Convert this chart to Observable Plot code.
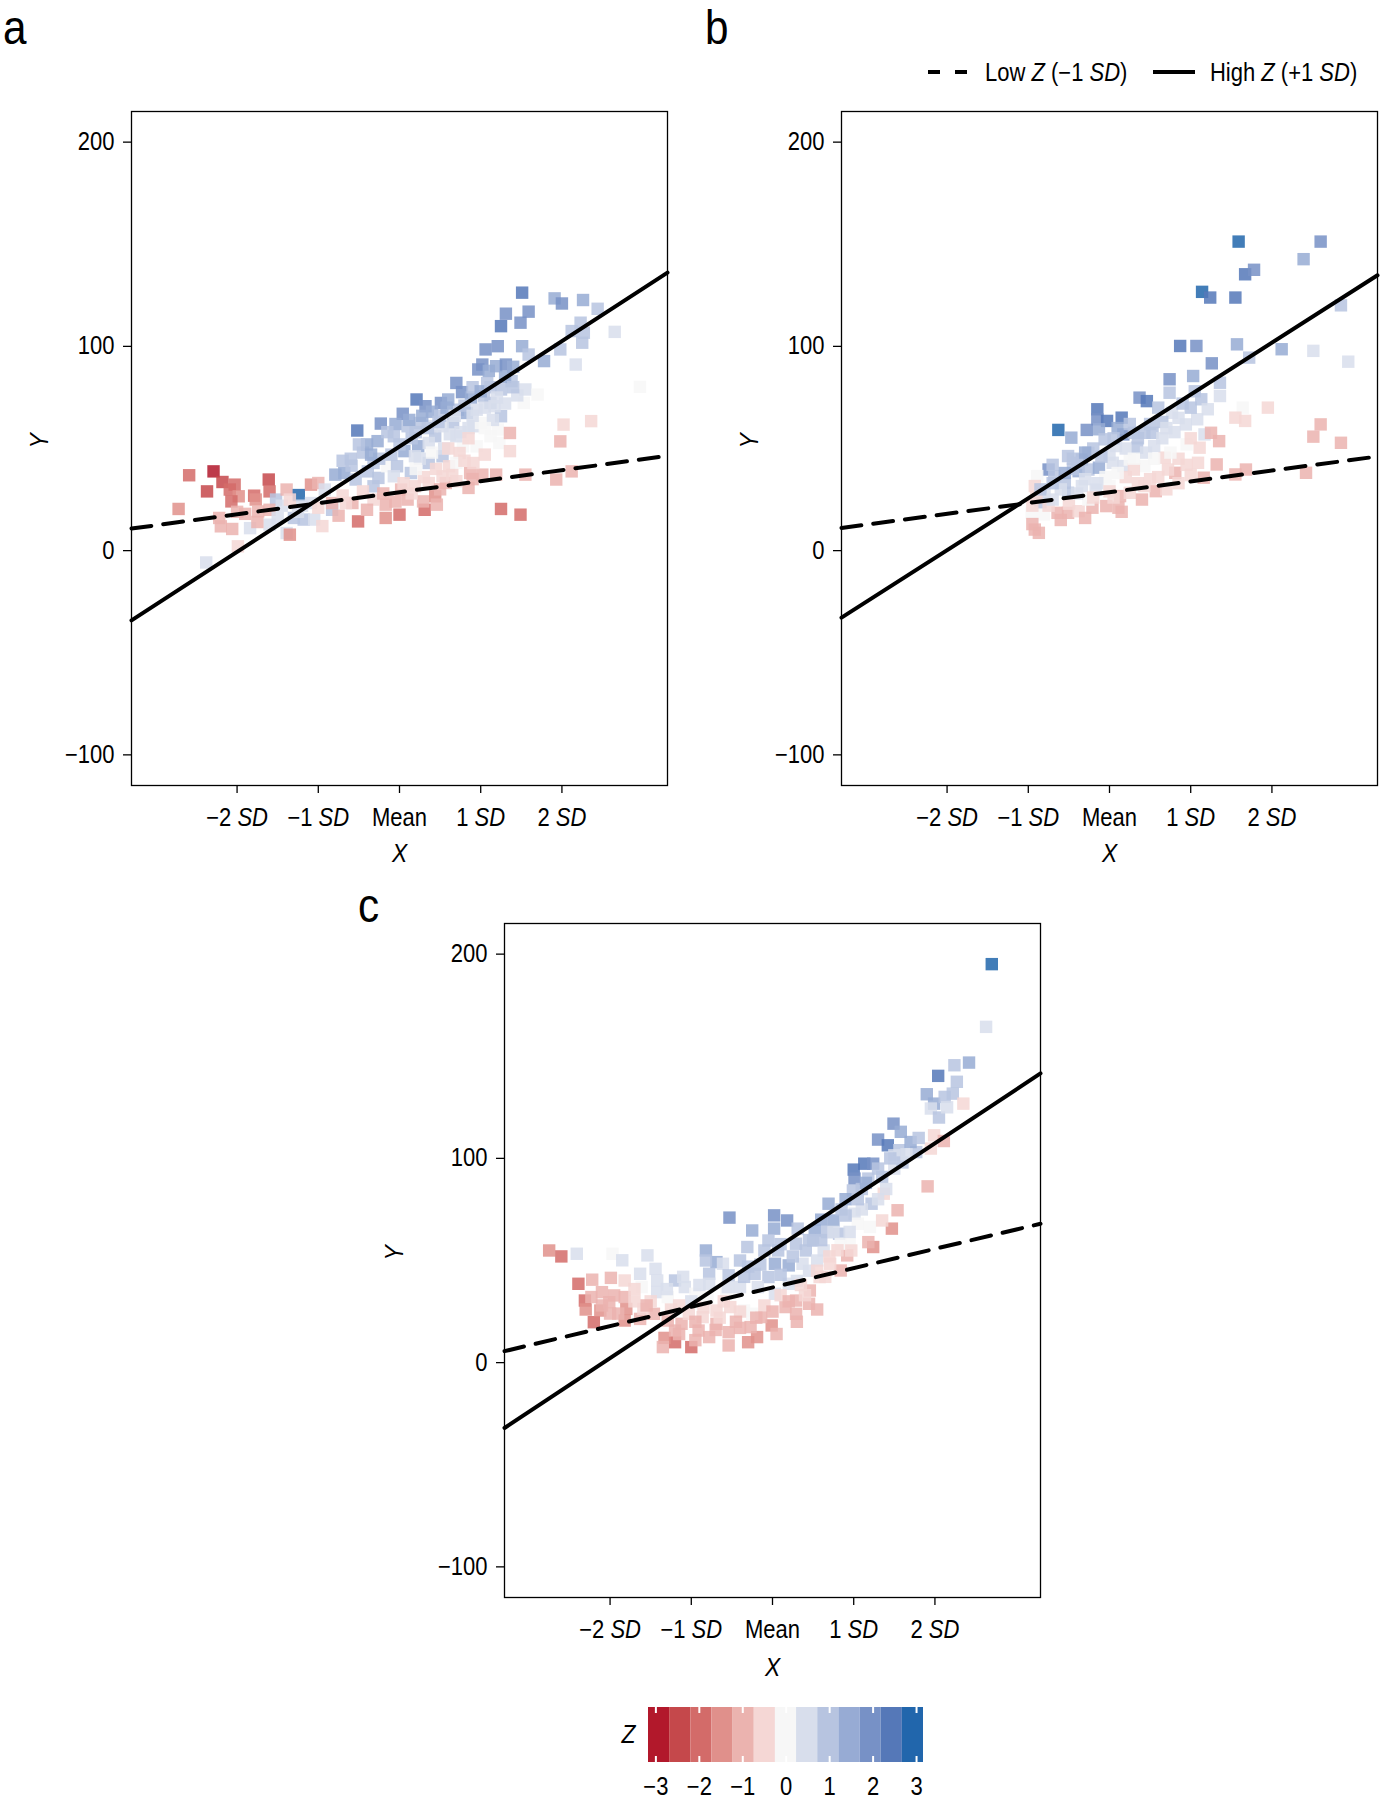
<!DOCTYPE html>
<html><head><meta charset="utf-8">
<script src="https://cdn.jsdelivr.net/npm/d3@7"></script>
<script src="https://cdn.jsdelivr.net/npm/@observablehq/plot@0.6"></script>
<style>
body{margin:0;background:#fff;}
#page{position:relative;width:1382px;height:1800px;overflow:hidden;background:#fff;
 font-family:"Liberation Sans",Arial,sans-serif;}
.panel{position:absolute;}
#overlay{position:absolute;left:0;top:0;}
</style></head><body><div id="page"></div>
<script>
const FONT = '"Liberation Sans",Arial,sans-serif';
const SQUEEZE = 0.88;

// ---------- axes / scales ----------
const xTickValues = [-2, -1, 0, 1, 2];
const xTickLabels = ["−2 SD", "−1 SD", "Mean", "1 SD", "2 SD"];
const yTickValues = [-100, 0, 100, 200];
const xDomain = [-3.3, 3.3];
const yDomain = [-115, 215];
const zMin = -3.17, zMax = 3.16;
const zColors = ["#B2182B","#C5484B","#D36B69","#E0908B","#EBB3AF","#F5D7D5","#F7F7F7",
                 "#D8DEEC","#B7C4E0","#97ABD4","#7791C6","#5578B8","#2166AC"];
const zLegendTicks = [-3, -2, -1, 0, 1, 2, 3];
const panelLetters = ["a", "b", "c"];
const legendLabels = ["Low Z (−1 SD)", "High Z (+1 SD)"];

// ---------- panel a ----------
const aX = [-2.59,-2.29,-2.18,-2.03,-2.37,-2.72,-2.09,-1.98,-2.07,-1.79,-1.77,-1.61,-1.60,-1.74,-2.20,-2.06,-2.22,-1.99,-2.38,-1.84,
 -1.60,-1.52,-1.39,-1.24,-1.09,-1.00,-1.30,-1.39,-1.35,-1.18,-1.05,-0.83,-0.79,-0.68,-0.59,-0.83,-0.75,-0.58,-0.51,-0.54,
 -0.52,-0.39,-0.32,-0.27,-0.23,-0.26,-0.15,-0.17,-0.17,0.00,-0.07,0.04,0.10,-0.03,0.06,0.14,0.10,0.21,0.32,0.25,
 0.23,0.36,0.31,0.29,0.44,0.46,0.51,0.44,0.53,0.57,0.61,0.70,0.77,0.72,0.66,0.78,0.74,0.83,0.87,0.85,
 0.95,0.97,1.02,1.04,0.95,1.02,1.06,1.21,1.19,1.31,1.25,1.25,1.21,1.23,1.19,1.25,1.36,1.36,1.38,1.25,
 1.31,1.49,1.51,1.59,1.51,1.59,1.55,1.53,1.55,1.49,1.70,1.78,1.91,2.00,1.98,1.98,2.02,1.93,2.12,2.12,
 2.17,2.23,2.25,2.27,2.26,2.44,2.36,2.65,2.96,0.40,0.53,0.91,1.00,1.12,1.17,0.70,0.36,0.19,-0.07,-0.32,
 0.70,0.53,0.36,0.19,0.02,-0.32,-0.66,-0.92,-1.09,0.91,1.12,
 -0.60,-0.45,-0.40,-0.10,-0.05,0.15,0.28,0.40,0.48,0.60,0.62,0.85,0.88,0.90,1.08,1.10,1.15,1.30,1.40,1.45,
 0.30,0.45,0.65,0.80,1.05,0.05,-0.20,-0.45,-1.60,-1.90,-1.45,-1.20,0.55,0.25,-0.25,
 -0.70,-0.50,-0.35,-0.15,0.00,0.12,0.20,0.35,0.50,0.58,0.68,0.80,0.90,1.00,1.12,1.20,1.30,1.40,1.05,0.75,
 0.20,0.40,0.60,0.85,1.05,0.50,0.70,0.90,0.15,-0.05,-0.40,-0.70,-1.00,-1.25,-1.50,-1.75,-2.00,-1.35,-0.95];
const aY = [36.9,38.8,33.6,32.3,29.0,20.4,29.9,26.6,24.1,26.9,25.0,34.8,29.0,19.2,11.9,10.6,16.0,2.1,-5.8,11.0,
 12.7,25.0,29.9,27.2,32.3,33.1,16.0,8.6,7.8,15.2,15.2,20.0,37.2,38.0,41.6,23.3,17.1,23.3,14.3,34.8,
 58.8,38.8,31.5,53.6,62.2,35.6,41.3,22.5,16.0,17.6,56.0,67.0,60.9,41.3,48.7,38.0,25.0,74.0,70.7,62.5,
 51.1,42.9,20.0,24.1,26.6,22.5,72.3,56.0,46.2,33.1,41.3,82.1,77.6,69.0,62.5,51.1,47.8,67.4,38.0,30.7,
 51.1,88.7,91.1,75.6,69.0,37.2,98.5,100.1,90.3,91.1,78.9,65.8,59.3,52.7,37.2,20.4,57.6,48.7,83.0,109.9,
 116.0,111.6,126.3,117.0,100.1,96.0,78.9,72.3,37.2,17.6,76.4,92.8,123.5,121.0,98.5,53.5,61.7,34.8,107.5,38.8,
 91.1,111.6,101.8,106.7,122.7,118.4,63.4,107.1,80.2,60.9,60.9,60.9,62.5,72.3,70.7,56.0,52.7,46.2,36.4,42.9,
 42.9,36.4,33.1,31.5,29.9,25.0,23.3,29.9,23.3,42.9,56.0,
 45,48,52,47,62,55,66,68,63,74,57,60,75,80,82,88,64,72,90,76,
 36,40,37,44,47,33,28,29,20,18,22,22,50,45,45,
 44,52,47,58,52,64,58,60,66,70,66,71,66,78,80,75,85,80,70,58,
 40,48,50,55,60,30,34,35,28,24,20,27,21,19,16,14,19,25,12];
const aZ = [-2.0,-2.8,-2.5,-2.0,-2.3,-1.5,-2.0,-1.6,-1.8,-1.9,-1.7,-2.3,-1.8,-1.0,-1.0,-1.1,-0.9,-0.6,0.4,0.6,
 0.6,0.8,-1.0,2.9,-1.5,-1.0,1.0,0.6,-1.5,1.0,0.5,1.0,1.5,1.4,1.0,-1.0,-1.0,-1.0,-1.9,1.0,
 2.3,1.0,1.0,1.5,2.0,1.0,0.1,-1.0,-1.6,-1.9,1.0,2.0,1.0,1.0,1.5,0.9,-1.0,2.3,2.0,1.0,
 1.5,1.0,-1.9,-1.0,-1.5,-1.0,2.0,1.0,0.9,-0.9,-0.4,1.9,1.9,1.0,0.9,0.1,-0.5,1.5,-1.0,-0.9,
 0.0,2.0,1.9,1.0,0.6,-1.0,2.0,1.9,1.5,1.9,1.0,1.0,0.2,0.1,-1.0,-1.9,-0.9,-0.6,1.0,2.4,
 2.1,2.0,2.3,2.0,1.5,1.0,0.5,0.1,-1.0,-1.9,0.1,1.5,1.5,1.7,0.9,-1.0,-0.7,-0.9,1.0,-1.2,
 0.6,1.0,1.0,1.0,1.3,1.2,-0.6,0.4,0.1,0.5,0.6,0.5,0.2,0.8,0.6,0.5,0.6,0.4,0.3,0.8,
 -0.2,-0.5,-0.6,-0.6,-0.9,-0.6,-0.6,0.4,0.3,-0.6,0.0,
 1.0,0.9,1.4,0.9,1.4,0.9,1.4,1.4,0.9,1.4,0.5,0.5,1.4,1.0,1.0,1.4,0.5,0.5,1.4,0.5,
 -0.5,-0.3,-0.6,-0.3,-0.5,-0.5,-0.8,-0.5,-0.8,-1.0,0.5,0.6,0.3,0.3,1.0,
 0.9,1.0,1.4,1.0,0.9,1.4,1.0,1.0,1.0,1.4,0.5,1.0,0.5,1.4,1.0,0.5,1.4,0.9,0.5,0.3,
 0.1,0.1,-0.3,-0.3,0.1,-0.8,-0.6,-0.8,-0.7,-0.9,-0.8,-0.5,-0.3,0.5,0.3,-0.8,-1.0,-0.6,-0.5];
const aIntercepts = [28.6, 51.0];
const aSlopes = [5.4, 25.8];

// ---------- panel b ----------
const bX = [1.59,2.60,2.39,1.67,1.78,1.14,1.24,1.55,2.85,0.87,1.07,1.57,1.72,2.12,2.51,2.94,1.26,1.03,0.74,0.74,
 1.36,1.36,1.13,1.21,0.37,0.46,0.60,0.77,0.94,1.08,1.17,1.64,1.55,1.67,1.95,2.60,2.51,2.85,1.25,1.35,
 1.32,1.68,1.55,2.42,1.16,1.09,1.11,0.81,0.72,0.57,0.68,-0.15,-0.15,-0.03,0.15,-0.13,-0.63,-0.47,-0.28,-0.06,
 0.17,0.30,0.43,0.53,0.55,0.34,0.08,-0.26,-0.51,-0.34,-0.75,-0.68,-0.55,-0.38,-0.26,-0.13,0.04,0.17,0.25,0.43,
 -0.51,-0.34,-0.17,-0.89,-0.92,-0.85,-0.96,-0.81,-0.92,-0.87,-0.64,-0.51,-0.38,-0.21,-0.04,0.11,0.13,0.25,0.43,0.30,
 -0.26,0.00,
 -0.70,-0.45,-0.20,0.00,0.10,0.25,0.45,0.65,0.80,0.95,1.00,0.65,-0.60,-0.80,-0.30,-0.05,0.60,0.85,0.35,0.05,
 -0.50,-0.75,0.20,0.95,-0.90,-0.40,
 -0.85,-0.70,-0.55,-0.45,-0.30,-0.10,0.05,0.20,0.35,0.50,0.70,0.85,0.90,1.05,0.55,0.75,1.00,0.30,0.10,-0.15,
 -0.40,-0.70,-0.95,-0.20,0.00,0.40,0.70,0.85,1.00,-0.60,-0.30,0.15,-0.95,0.50];
const bY = [151.3,151.3,142.7,135.3,137.5,126.7,123.9,123.9,120.1,100.2,100.2,101.0,94.5,98.6,97.8,92.5,91.7,85.5,83.9,77.3,
 82.2,75.7,74.1,69.2,74.9,73.2,70.0,67.5,61.8,64.3,56.9,70.0,65.1,63.5,70.0,61.8,55.8,52.8,57.7,53.6,
 42.2,39.7,37.3,38.1,35.7,43.0,50.4,38.1,39.7,29.1,45.5,69.2,64.3,63.5,65.1,59.4,59.1,55.3,59.1,54.5,
 56.9,57.7,57.7,57.7,51.2,50.4,51.2,47.9,46.3,44.6,39.7,36.5,33.2,38.9,39.7,40.6,43.0,41.4,44.6,41.4,
 28.3,31.6,29.9,36.5,31.6,23.4,18.5,17.7,10.3,8.7,18.5,18.5,19.3,21.0,21.8,21.0,26.7,28.3,31.6,39.7,
 25.0,31.6,
 42,40,50,47,60,62,48,55,58,52,70,63,30,28,35,36,36,45,33,26,
 23,22,36,42,26,43,
 30,33,38,45,48,46,55,50,55,62,60,65,72,78,45,48,55,45,38,33,
 28,25,22,26,29,25,30,33,37,15,16,19,13,35];
const bZ = [2.9,2.0,1.5,2.3,2.1,2.9,2.3,2.2,1.0,2.3,2.0,1.5,1.0,1.3,0.5,0.3,1.8,1.5,2.0,1.0,
 1.0,0.6,1.0,0.6,1.9,2.3,1.0,0.5,0.4,0.4,0.5,0.1,-0.3,-0.5,-0.7,-1.0,-1.0,-1.2,-1.0,-1.0,
 -0.9,-0.9,-1.0,-0.9,-1.0,-0.6,-0.3,-0.9,-0.4,-1.0,-0.6,2.6,2.0,2.3,2.2,1.5,2.9,1.5,1.7,1.0,
 1.7,1.0,1.0,1.0,0.5,0.8,0.6,1.0,1.0,1.3,1.7,1.0,1.0,1.3,1.0,1.3,0.5,0.3,0.1,0.0,
 0.9,0.6,0.4,0.0,-0.6,0.9,0.1,0.0,-1.0,-1.0,-0.9,-0.8,-0.7,-1.0,-0.9,-1.0,-0.9,-0.7,-0.6,-0.5,
 0.1,-0.1,
 1.0,1.0,1.0,0.5,1.4,1.0,0.5,0.5,0.3,0.0,0.9,0.9,0.5,0.3,0.3,0.1,-0.5,-0.4,-0.6,-0.7,
 -0.7,-0.5,-0.3,-0.6,-0.5,0.9,
 0.9,1.0,1.4,1.0,1.4,1.0,1.0,0.5,0.9,1.0,0.5,0.5,1.0,1.0,0.1,0.0,-0.3,0.0,0.1,0.3,
 0.5,0.3,-0.3,-0.6,-0.5,-0.9,-0.7,-0.6,-0.5,-0.8,-0.8,-0.8,-0.8,-0.4];
const bIntercepts = [28.6, 51.0];
const bSlopes = [5.3, 25.4];

// ---------- panel c ----------
const cX = [2.70,2.63,2.42,2.24,2.27,2.04,1.90,1.99,2.12,2.22,1.95,2.35,1.49,1.58,1.30,1.42,1.56,1.77,1.50,1.99,
 2.11,1.95,1.91,1.00,1.13,1.24,1.01,1.18,1.35,1.50,1.37,1.54,1.47,1.24,1.18,0.99,1.22,1.01,1.05,1.20,
 1.35,0.95,0.92,0.84,0.69,0.75,0.82,0.67,0.52,0.50,0.63,0.71,0.58,0.46,0.45,0.29,0.29,0.16,-0.01,-0.19,
 -0.27,-0.14,-0.35,-0.25,-0.54,-0.54,-0.78,-0.69,-0.91,-1.00,-1.20,-1.33,-1.35,-1.20,-1.12,-1.03,-0.86,-0.69,-0.52,-1.29,
 -1.46,-1.63,-1.59,-1.82,-1.80,-1.82,-2.20,-2.12,-2.31,-2.23,-2.01,-1.95,-2.10,-2.39,-2.22,-1.99,-1.82,-2.75,-2.60,-2.41,
 -1.97,-1.85,-1.54,-1.63,-1.44,-1.42,-1.42,-1.61,-1.20,-1.08,-1.29,-0.95,-0.82,-0.69,-0.82,-0.78,-0.61,-0.54,-0.78,-0.53,
 -0.25,0.02,0.02,0.18,0.31,-0.05,-0.31,-0.40,-0.10,0.03,0.20,0.07,0.29,0.41,0.37,-0.22,-0.05,-0.18,0.03,-0.40,
 -0.57,0.20,0.84,0.97,
 -1.00,-0.90,-1.15,-0.60,-0.40,-0.10,0.10,0.30,0.45,0.55,0.10,-0.30,0.60,0.85,0.90,1.10,1.30,1.10,0.80,0.65,
 0.40,-1.70,-2.00,-2.30,-1.50,-0.85,-0.65,-0.40,-0.95,1.40,1.60,1.70,
 -2.10,-1.90,-1.70,-1.30,-1.10,-1.25,-1.55,-0.80,-0.55,-0.35,-0.15,0.10,0.25,0.45,0.60,0.75,0.90,1.05,1.15,1.30,
 1.45,1.65,1.80,2.05,2.15,0.95,0.70,0.55,0.35,0.20,0.00,-0.20,-0.45,-0.70,-0.95,-1.15,-0.30,0.05,0.30,0.55];
const cY = [195.1,164.4,146.9,145.6,137.5,140.4,131.4,126.8,130.1,131.7,124.4,126.8,117.0,113.0,109.2,106.4,104.0,103.1,101.5,111.3,
 108.5,104.8,86.3,94.5,97.4,97.4,90.1,90.1,90.9,95.0,82.7,74.6,65.6,56.6,59.0,84.3,77.8,72.9,68.0,66.4,
 69.6,58.2,52.5,45.1,77.8,69.6,63.1,63.9,64.7,59.8,54.9,48.4,41.9,35.3,28.8,30.4,23.9,27.2,18.2,12.5,
 17.4,22.3,25.5,23.9,8.4,14.9,12.5,19.0,15.7,7.6,10.0,12.1,7.6,15.7,19.0,23.9,22.3,25.5,27.2,20.6,
 23.9,21.4,26.3,20.6,26.3,32.1,19.8,25.5,30.4,32.1,29.6,32.9,34.5,38.6,40.6,41.5,40.2,54.9,52.0,53.3,
 53.3,50.1,52.5,43.5,45.9,40.2,34.5,37.0,40.2,37.0,32.1,33.7,54.9,49.2,50.0,43.5,48.4,42.7,38.6,71.0,
 64.7,72.1,65.6,69.6,65.6,59.8,56.6,50.0,54.9,48.4,47.6,54.9,58.2,54.9,48.4,43.5,41.9,37.0,33.7,37.0,
 33.7,38.6,58.2,54.9,
 30,38,28,30,25,28,33,40,45,50,43,47,70,75,80,85,80,75,55,42,
 33,30,24,26,30,27,22,17,20,85,98,108,
 28,24,36,36,42,26,28,32,37,42,48,58,52,60,60,64,72,80,88,95,
 100,102,110,120,125,64,52,45,38,30,25,22,20,16,11,14,10,14,20,26];
const cZ = [2.9,0.5,1.3,1.0,0.8,2.3,1.5,1.6,1.0,1.0,0.5,-0.5,2.0,1.6,1.9,2.3,1.0,0.8,0.5,-0.5,
 -1.0,-0.5,-0.8,2.3,2.3,2.0,2.0,1.0,1.0,0.5,-0.4,-0.9,-1.5,-1.5,-0.9,1.0,1.0,0.6,0.1,0.1,
 -0.4,0.2,-0.9,-0.8,1.5,1.5,1.0,1.0,1.4,1.0,0.5,-0.5,-0.5,-0.9,-1.0,-1.0,-1.0,-0.9,-1.6,-1.5,
 -1.0,-0.9,0.0,0.1,-1.2,-0.9,-1.0,-0.8,-0.9,-1.8,-1.8,-1.6,-1.0,-1.0,-0.9,-0.6,-0.6,-0.5,-0.3,-0.9,
 -0.8,-1.2,-0.5,-1.5,-1.4,-1.0,-2.0,-1.5,-2.0,-1.0,-0.9,-0.9,-1.0,-1.8,-1.0,-1.0,-0.5,-1.3,-1.8,0.3,
 0.1,0.5,0.5,0.6,0.6,0.5,0.4,0.1,1.0,0.5,0.2,0.1,1.4,1.4,1.0,1.0,0.6,1.0,0.4,1.7,
 1.5,2.0,1.5,1.9,1.0,1.0,1.0,1.0,1.0,1.4,1.4,1.0,1.0,1.0,0.6,0.9,1.0,0.6,0.6,0.4,
 0.1,0.3,0.0,-0.5,
 0.3,0.4,-0.5,-0.4,-0.6,-0.5,-0.3,0.3,0.5,0.6,0.9,1.0,1.4,1.0,1.4,0.9,0.5,0.5,-0.3,-0.7,
 -0.7,-0.7,-1.0,-1.5,-0.3,-0.5,-0.7,-0.9,-1.0,0.5,1.0,1.4,
 -1.2,-1.0,-0.5,0.3,0.6,-0.7,-0.8,0.0,0.5,0.9,1.0,1.0,0.9,1.0,0.9,0.5,0.9,1.0,1.4,1.0,
 1.0,0.5,1.0,0.9,0.5,0.3,-0.3,-0.5,-0.6,-0.8,-0.8,-0.9,-0.8,-1.0,-1.0,-1.2,-1.3,-1.2,-0.9,-0.8];
const cIntercepts = [36.8, 54.8];
const cSlopes = [9.45, 26.3];

// ---------- layout ----------
const ML = 100, MR = 5, MT = 10, MB = 90, FW = 536, FH = 674;
const page = document.getElementById("page");
const zThresholds = d3.range(1, zColors.length).map(i => zMin + i * (zMax - zMin) / zColors.length);
const colorScale = {type: "threshold", domain: zThresholds, range: zColors};
const fmtMinus = d => d < 0 ? "−" + Math.abs(d) : String(d);
const NS = "http://www.w3.org/2000/svg";

function italicizeSD(svg) {
  svg.querySelectorAll('g[aria-label="x-axis tick label"] text').forEach(t => {
    const s = t.textContent;
    const m = s.match(/^(.*?)\s?SD$/);
    if (!m) return;
    t.textContent = "";
    const a = document.createElementNS(NS, "tspan"); a.textContent = m[1] + "\u00a0";
    const b = document.createElementNS(NS, "tspan"); b.textContent = "SD"; b.setAttribute("font-style", "italic");
    t.appendChild(a); t.appendChild(b);
  });
}
// narrow the sans face horizontally around each text's anchor (the original uses a condensed face)
function condense(root) {
  root.querySelectorAll("text").forEach(t => {
    if (!t.textContent.trim()) return;
    const bb = t.getBBox();
    const anchor = getComputedStyle(t).textAnchor;
    const ax = anchor === "middle" ? bb.x + bb.width / 2 : anchor === "end" ? bb.x + bb.width : bb.x;
    const T = t.getAttribute("transform") || "";
    t.setAttribute("transform", (T + ` translate(${ax},0) scale(${SQUEEZE},1) translate(${-ax},0)`).trim());
  });
}

function panel(X, Y, Z, intercepts, slopes, frameLeft, frameTop, yLabOff, xLabOff) {
  const pts = X.map((x, i) => ({x, y: Y[i], z: Z[i]}));
  const low = xDomain.map(x => ({x, y: intercepts[0] + slopes[0] * x}));
  const high = xDomain.map(x => ({x, y: intercepts[1] + slopes[1] * x}));
  const svg = Plot.plot({
    width: ML + FW + MR, height: MT + FH + MB,
    marginLeft: ML, marginRight: MR, marginTop: MT, marginBottom: MB,
    x: {domain: xDomain}, y: {domain: yDomain},
    color: colorScale,
    style: {fontFamily: FONT, fontSize: "25px", color: "black", background: "transparent", overflow: "visible"},
    marks: [
      Plot.dot(pts, {x: "x", y: "y", fill: "z", symbol: "square", r: 7, fillOpacity: 0.85}),
      Plot.line(low, {x: "x", y: "y", stroke: "black", strokeWidth: 4, strokeDasharray: "20,12"}),
      Plot.line(high, {x: "x", y: "y", stroke: "black", strokeWidth: 4}),
      Plot.frame({stroke: "black", strokeWidth: 1.3}),
      Plot.axisX({ticks: xTickValues, tickFormat: d => xTickLabels[xTickValues.indexOf(d)], tickSize: 8, tickPadding: 15, label: null, strokeWidth: 1.3}),
      Plot.axisY({ticks: yTickValues, tickFormat: fmtMinus, tickSize: 8, tickPadding: 9, label: null, strokeWidth: 1.3}),
      Plot.text(["Y"], {text: d => d, frameAnchor: "left", dx: -yLabOff, rotate: -90, fontStyle: "italic", fontSize: 26}),
      Plot.text(["X"], {text: d => d, frameAnchor: "bottom", dy: xLabOff, fontStyle: "italic", fontSize: 26})
    ]
  });
  italicizeSD(svg);
  const div = document.createElement("div");
  div.className = "panel";
  div.style.left = (frameLeft - ML) + "px";
  div.style.top = (frameTop - MT) + "px";
  div.appendChild(svg);
  page.appendChild(div);
  condense(svg);
}

panel(aX, aY, aZ, aIntercepts, aSlopes, 131, 111, 92, 76);
panel(bX, bY, bZ, bIntercepts, bSlopes, 841, 111, 92, 76);
panel(cX, cY, cZ, cIntercepts, cSlopes, 504, 923, 110, 78);

// ---------- colour bar ----------
const binEdges = d3.range(zColors.length + 1).map(i => zMin + i * (zMax - zMin) / zColors.length);
const cells = zColors.map((c, i) => ({x1: binEdges[i], x2: binEdges[i + 1], z: (binEdges[i] + binEdges[i + 1]) / 2}));
const CBL = 40, CBW = 275, CBH = 55;
const cb = Plot.plot({
  width: CBL + CBW + 15, height: CBH + 38,
  marginLeft: CBL, marginRight: 15, marginTop: 0, marginBottom: 38,
  x: {domain: [zMin, zMax]},
  color: colorScale,
  style: {fontFamily: FONT, fontSize: "25px", color: "black", background: "transparent", overflow: "visible"},
  marks: [
    Plot.rect(cells, {x1: "x1", x2: "x2", fill: "z"}),
    Plot.ruleX(zLegendTicks, {stroke: "white", strokeWidth: 2, insetBottom: CBH - 6}),
    Plot.ruleX(zLegendTicks, {stroke: "white", strokeWidth: 2, insetTop: CBH - 6}),
    Plot.axisX({ticks: zLegendTicks, tickFormat: fmtMinus, tickSize: 0, tickPadding: 15, label: null}),
    Plot.text(["Z"], {text: d => d, frameAnchor: "left", dx: -27, fontStyle: "italic", fontSize: 26})
  ]
});
const cbDiv = document.createElement("div");
cbDiv.className = "panel";
cbDiv.style.left = (648 - CBL) + "px";
cbDiv.style.top = "1707px";
cbDiv.appendChild(cb);
page.appendChild(cbDiv);
condense(cb);

// ---------- letters and line legend ----------
const ov = document.createElementNS(NS, "svg");
ov.setAttribute("id", "overlay");
ov.setAttribute("width", 1382); ov.setAttribute("height", 1800);
ov.style.fontFamily = FONT;
page.appendChild(ov);
function txt(x, y, size, parts) {
  const t = document.createElementNS(NS, "text");
  t.setAttribute("x", x); t.setAttribute("y", y); t.setAttribute("font-size", size);
  parts.forEach(p => {
    const s = document.createElementNS(NS, "tspan");
    s.textContent = p[0];
    if (p[1]) s.setAttribute("font-style", "italic");
    t.appendChild(s);
  });
  ov.appendChild(t);
  return t;
}
function seg(x1, x2, y, dash) {
  const l = document.createElementNS(NS, "line");
  l.setAttribute("x1", x1); l.setAttribute("x2", x2); l.setAttribute("y1", y); l.setAttribute("y2", y);
  l.setAttribute("stroke", "black"); l.setAttribute("stroke-width", 4);
  if (dash) l.setAttribute("stroke-dasharray", dash);
  ov.appendChild(l);
}
txt(3, 44, 48, [[panelLetters[0]]]);
txt(705, 44, 48, [[panelLetters[1]]]);
txt(358, 922, 48, [[panelLetters[2]]]);
function splitItalic(label) {
  return label.split(/(Z|SD)/).filter(s => s.length).map(s => [s, s === "Z" || s === "SD"]);
}
seg(928, 967, 72, "12,15");
txt(985, 81, 25, splitItalic(legendLabels[0]));
seg(1153, 1195, 72, null);
txt(1210, 81, 25, splitItalic(legendLabels[1]));
condense(ov);
</script></body></html>
